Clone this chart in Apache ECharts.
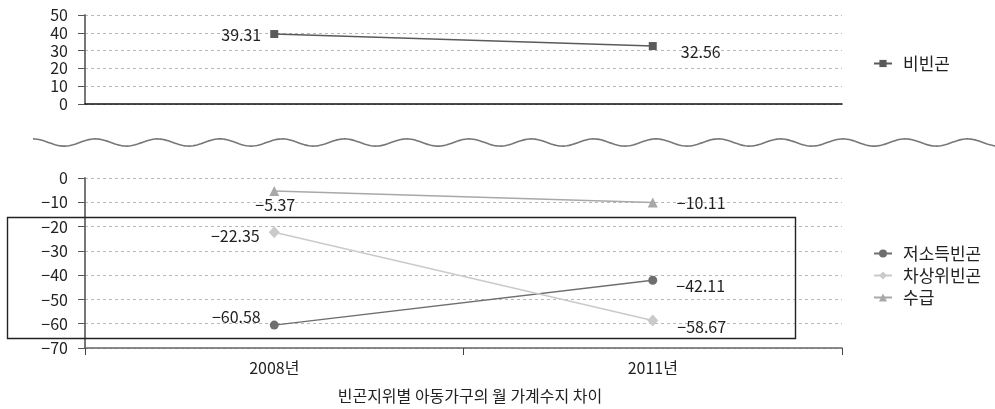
<!DOCTYPE html>
<html>
<head>
<meta charset="utf-8">
<script src="https://cdn.jsdelivr.net/npm/echarts@6/dist/echarts.min.js"></script>
<style>
  html, body { margin: 0; padding: 0; background: #fff; }
  #chart { width: 995px; height: 409px; }
</style>
</head>
<body>
<div id="chart"></div>
<script>
// Categories (survey years)
const years = ['2008년', '2011년'];

// Monthly household balance by poverty status
const nonPoor = [39.31, 32.56];        // 비빈곤
const lowIncomePoor = [-60.58, -42.11]; // 저소득빈곤
const nearPoor = [-22.35, -58.67];      // 차상위빈곤
const recipients = [-5.37, -10.11];     // 수급

const topTicks = { min: 0, max: 50, interval: 10 };
const bottomTicks = { min: -70, max: 0, interval: 10 };

const FONT = '"Noto Sans CJK KR", "Noto Sans", sans-serif';
const MINUS = '\u2212';
const fmtNum = v => (v < 0 ? MINUS + Math.abs(v) : String(v));
const fmtVal = v => (v < 0 ? MINUS + Math.abs(v).toFixed(2) : v.toFixed(2));

const labelBase = {
  show: true,
  color: '#222',
  fontSize: 16,
  fontFamily: FONT,
  formatter: p => fmtVal(p.value)
};

// per-point label placement: [position, distance, offset]
function withLabels(values, placements) {
  return values.map((v, i) => ({
    value: v,
    label: Object.assign({}, labelBase, {
      position: placements[i][0],
      distance: placements[i][1],
      offset: placements[i][2]
    })
  }));
}

const yLabel = { color: '#222', fontSize: 16, fontFamily: FONT, margin: 17, formatter: fmtNum };
const gridLine = { show: true, lineStyle: { color: '#b8b8b8', type: [3, 3], width: 1 } };

// wavy break between the two panels
const wave = [];
for (let x = 33; x <= 996; x += 2) {
  wave.push([x, 142.5 - 3.6 * Math.cos((x - 33) / 62.3 * 2 * Math.PI)]);
}

const chart = echarts.init(document.getElementById('chart'), null, { renderer: 'canvas' });

chart.setOption({
  animation: false,
  backgroundColor: '#fff',
  textStyle: { fontFamily: FONT },
  title: {
    text: '빈곤지위별 아동가구의 월 가계수지 차이',
    left: 465, top: 383, textAlign: 'center',
    textStyle: { fontSize: 16, fontWeight: 'normal', color: '#222', fontFamily: FONT }
  },
  grid: [
    { left: 85, top: 15, width: 757, height: 89 },
    { left: 85, top: 178, width: 757, height: 170 }
  ],
  xAxis: [
    {
      gridIndex: 0, type: 'category', data: years,
      axisLine: { lineStyle: { color: '#111', width: 1.5 } },
      axisTick: { show: false }, axisLabel: { show: false }
    },
    {
      gridIndex: 1, type: 'category', data: years,
      axisLine: { onZero: false, lineStyle: { color: '#666', width: 1.5 } },
      axisTick: { show: true, length: 7, lineStyle: { color: '#444' } },
      axisLabel: { color: '#222', fontSize: 16, fontFamily: FONT, margin: 12 }
    }
  ],
  yAxis: [
    {
      gridIndex: 0, type: 'value', min: topTicks.min, max: topTicks.max, interval: topTicks.interval,
      axisLine: { show: true, lineStyle: { color: '#777', width: 2 } },
      axisTick: { show: true, length: 7, lineStyle: { color: '#555' } },
      axisLabel: yLabel, splitLine: gridLine
    },
    {
      gridIndex: 1, type: 'value', min: bottomTicks.min, max: bottomTicks.max, interval: bottomTicks.interval,
      axisLine: { show: true, lineStyle: { color: '#777', width: 2 } },
      axisTick: { show: true, length: 7, lineStyle: { color: '#555' } },
      axisLabel: yLabel, splitLine: gridLine
    }
  ],
  legend: [
    {
      data: ['비빈곤'], left: 868, top: 50,
      itemWidth: 18, itemHeight: 9,
      textStyle: { fontSize: 17, color: '#222', fontFamily: FONT, padding: [0, 0, 0, 6] }
    },
    {
      data: ['저소득빈곤', '차상위빈곤', '수급'], orient: 'vertical', left: 868, top: 240,
      itemWidth: 18, itemHeight: 10, itemGap: 5,
      textStyle: { fontSize: 17, color: '#222', fontFamily: FONT, padding: [0, 0, 0, 6] }
    }
  ],
  graphic: [
    {
      type: 'polyline', silent: true,
      shape: { points: wave },
      style: { stroke: '#777', lineWidth: 1.6, fill: null }
    },
    {
      type: 'rect', silent: true, z: 100,
      shape: { x: 7.5, y: 217.5, width: 788, height: 121 },
      style: { stroke: '#222', lineWidth: 1.4, fill: null }
    }
  ],
  series: [
    {
      name: '비빈곤', type: 'line', xAxisIndex: 0, yAxisIndex: 0,
      symbol: 'rect', symbolSize: 8,
      itemStyle: { color: '#5a5a5a' }, lineStyle: { color: '#5a5a5a', width: 1.5 },
      data: withLabels(nonPoor, [['left', 9, [0, 1]], ['right', 24, [0, 6]]])
    },
    {
      name: '저소득빈곤', type: 'line', xAxisIndex: 1, yAxisIndex: 1,
      symbol: 'circle', symbolSize: 9,
      itemStyle: { color: '#6e6e6e' }, lineStyle: { color: '#6e6e6e', width: 1.5 },
      data: withLabels(lowIncomePoor, [['left', 9, [0, -8]], ['right', 19, [0, 6]]])
    },
    {
      name: '차상위빈곤', type: 'line', xAxisIndex: 1, yAxisIndex: 1,
      symbol: 'diamond', symbolSize: [11, 12],
      itemStyle: { color: '#cacaca' }, lineStyle: { color: '#cacaca', width: 1.5 },
      data: withLabels(nearPoor, [['left', 9, [0, 4]], ['right', 19, [0, 6]]])
    },
    {
      name: '수급', type: 'line', xAxisIndex: 1, yAxisIndex: 1,
      symbol: 'triangle', symbolSize: 10,
      itemStyle: { color: '#a8a8a8' }, lineStyle: { color: '#a8a8a8', width: 1.5 },
      data: withLabels(recipients, [['bottom', 1, [1, 0]], ['right', 19, [0, 0]]])
    }
  ]
});
</script>
</body>
</html>
